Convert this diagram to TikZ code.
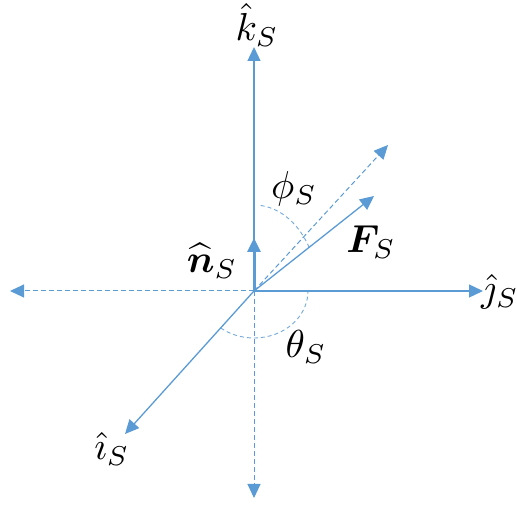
\documentclass[tikz,border=0pt]{standalone}
\usepackage{amsmath}
\usepackage{bm}
\usepackage{graphicx}
\usetikzlibrary{arrows.meta}
\definecolor{axblue}{HTML}{5B9BD5}
\newcommand{\lblmath}[1]{\scalebox{3.9}{$#1$}}
\tikzset{
  vec/.style={draw=axblue, line width=1.3pt, -{Triangle[length=14pt,width=13pt]}},
  dvec/.style={draw=axblue, line width=1pt, dash pattern=on 5pt off 3pt, -{Triangle[length=14pt,width=13pt]}},
  thickvec/.style={draw=axblue, line width=3pt, -{Triangle[length=14pt,width=13pt]}},
  arcline/.style={draw=axblue!85!white, line width=0.9pt, dash pattern=on 4pt off 3pt},
  lbl/.style={inner sep=0pt}
}
\begin{document}
\begin{tikzpicture}[x=1pt,y=-1pt]
\useasboundingbox (0,0) rectangle (517,510);
\coordinate (O) at (254,291);
\coordinate (K) at (254,47);
\coordinate (J) at (483,291);
\coordinate (I) at (125,434);
\coordinate (L) at (10,291);
\coordinate (D) at (254,498);
\coordinate (F) at (374,196);
\coordinate (P) at (388,145);
\coordinate (N) at (254,238);
% dashed
\draw[dvec] (O) -- (L);
\draw[dvec] (O) -- (D);
\draw[dvec] (O) -- (P);
% arcs
\draw[arcline] (O) ++(-84:64 and 86) arc[start angle=-84, end angle=-30, x radius=64, y radius=86];
\draw[arcline] (O) ++(128:54 and 47) arc[start angle=128, end angle=0, x radius=54, y radius=47];
% solid
\draw[vec] (O) -- (K);
\draw[vec] (O) -- (J);
\draw[vec] (O) -- (I);
\draw[vec] (O) -- (F);
\draw[thickvec] (O) -- (N);
% labels
\node[lbl] (lk) at (257,25) {\lblmath{\hat{k}_S}};
\node[lbl] (lphi) at (294,189) {\lblmath{\phi_S}};
\node[lbl] (lF) at (371,242) {\lblmath{\bm{F}_S}};
\node[lbl] (ln) at (212,261) {\lblmath{\widehat{\bm{n}}_S}};
\node[lbl] (lj) at (500,292) {\lblmath{\hat{\jmath}_S}};
\node[lbl] (lth) at (306,347) {\lblmath{\theta_S}};
\node[lbl] (li) at (112,449) {\lblmath{\hat{\imath}_S}};
\end{tikzpicture}
\end{document}
